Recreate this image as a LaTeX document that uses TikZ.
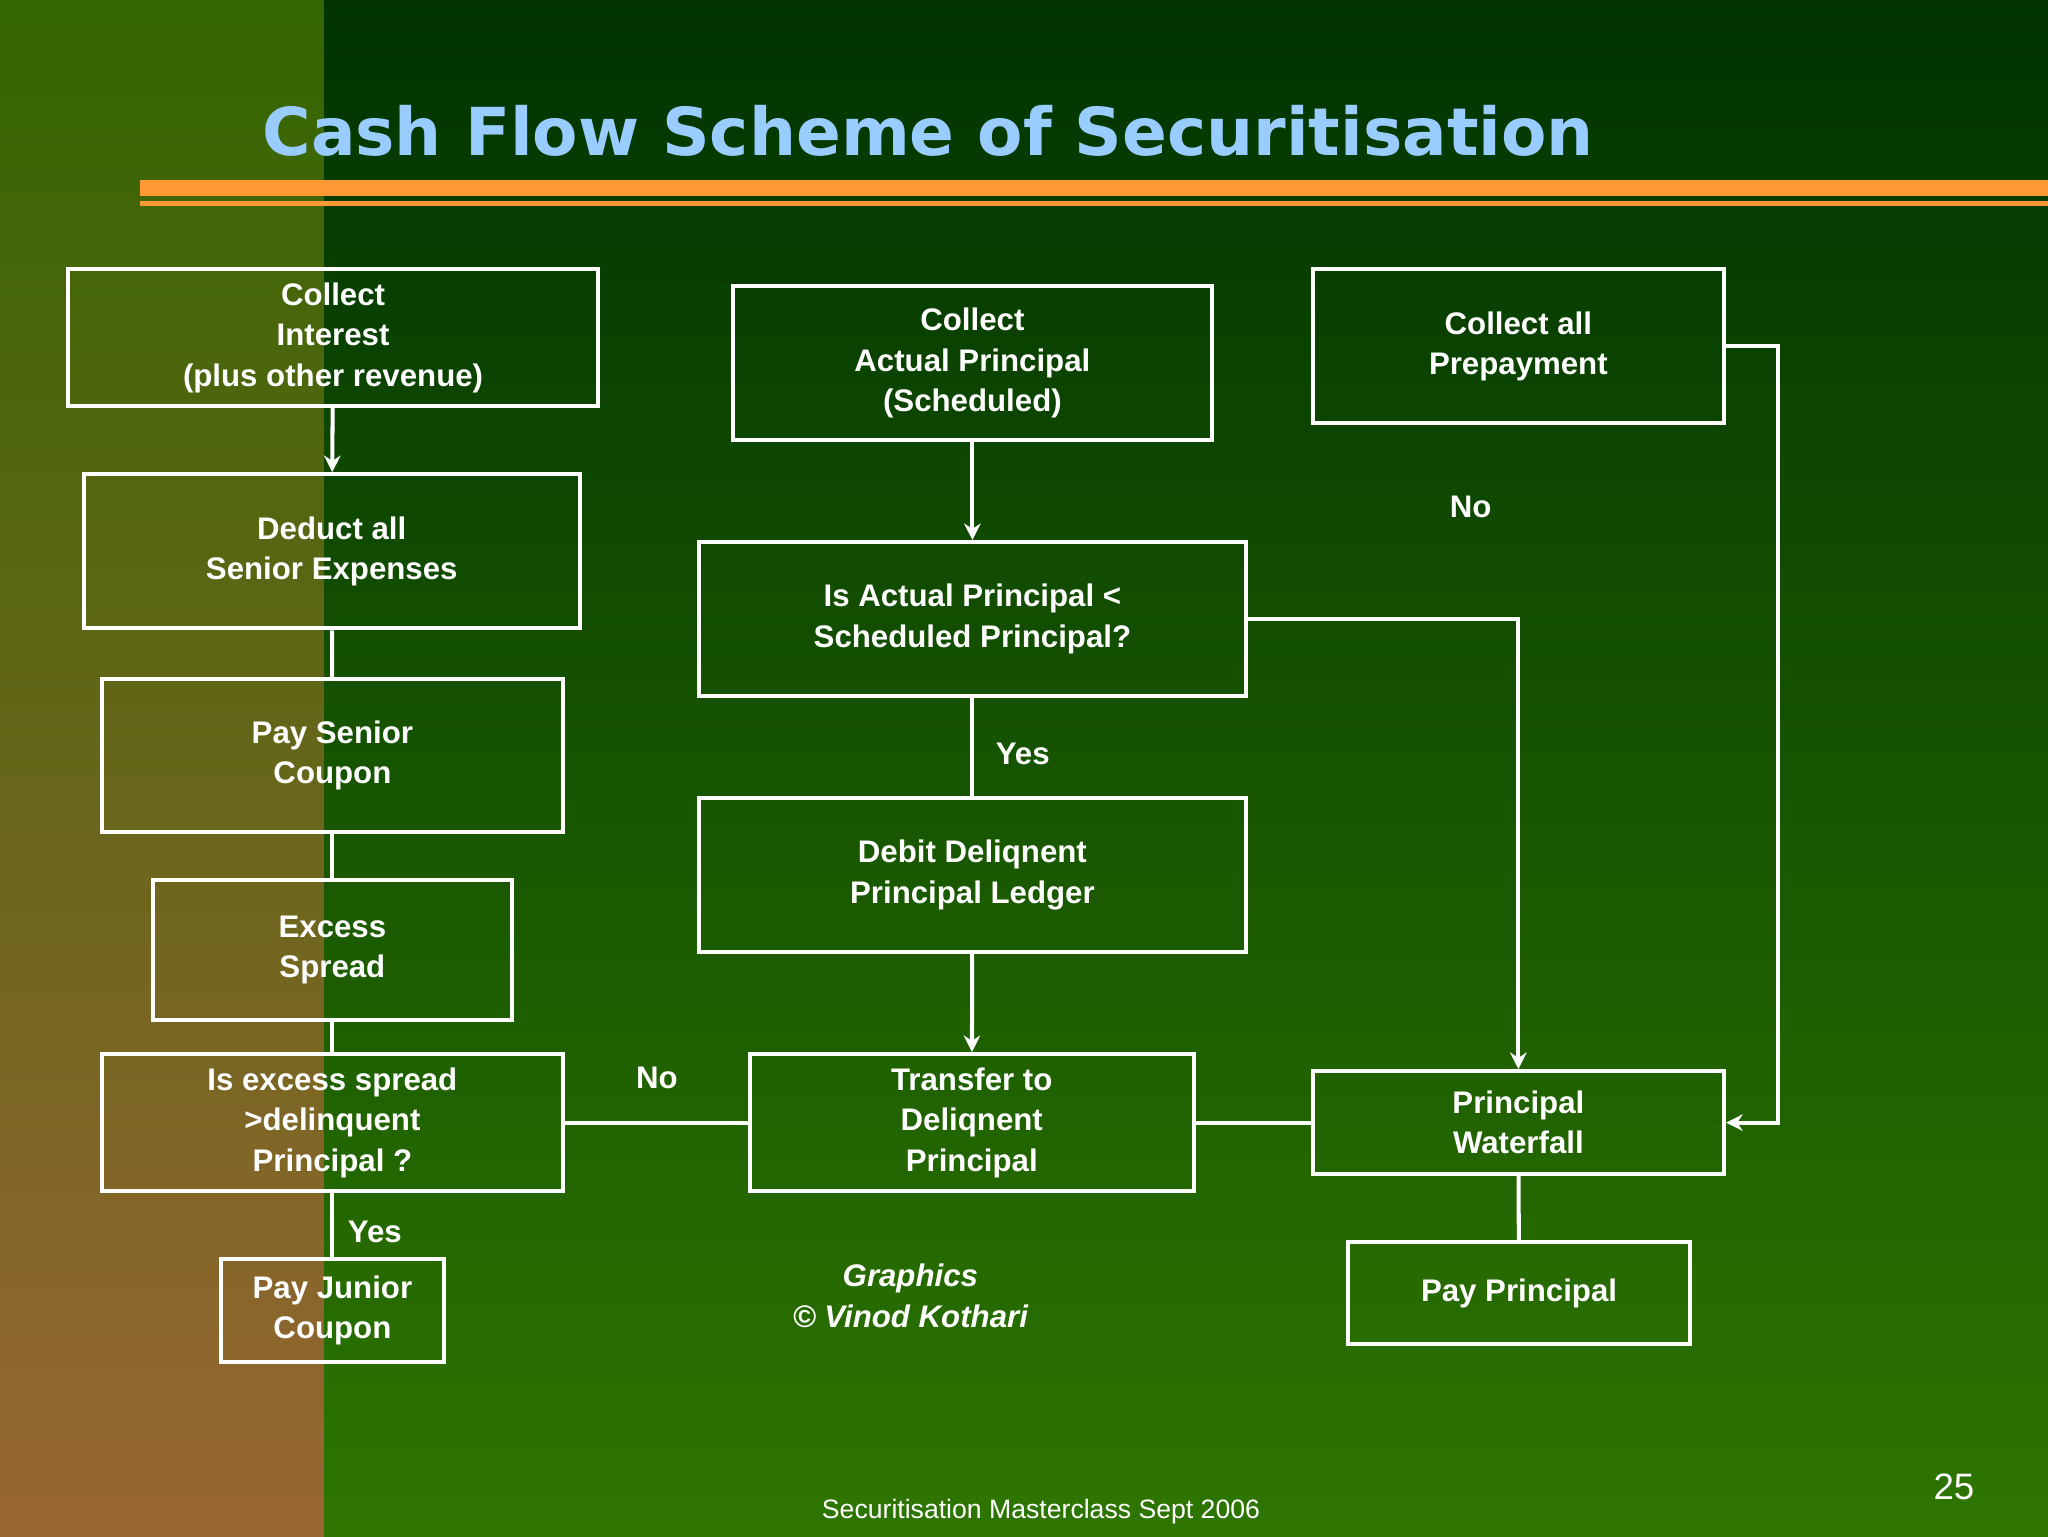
\documentclass[tikz,border=0pt]{standalone}
\usepackage{fontspec}
\setmainfont{Liberation Sans}
\newfontfamily\titlefont{DejaVu Sans}
\usetikzlibrary{arrows.meta}
\definecolor{ltgreen}{HTML}{336600}
\definecolor{dkgreen}{HTML}{003300}
\definecolor{brownish}{HTML}{996633}
\definecolor{orangeline}{HTML}{FF9933}
\definecolor{titleblue}{HTML}{99CCFF}
\tikzset{
  box/.style={draw=white,line width=2.2pt,align=center,text=white,font=\fontsize{17}{22}\selectfont\bfseries,inner sep=0pt},
  conn/.style={draw=white,line width=2.2pt},
  arr/.style={conn,-{Stealth[length=9pt,width=9pt]}},
  lbl/.style={text=white,font=\fontsize{17}{22}\selectfont\bfseries}
}
\newcommand{\bx}[6]{\node[box,minimum width=(#4-#2)*0.25mm,minimum height=(#5-#3)*0.25mm] (#1) at ({(#2+#4)/2},{(#3+#5)/2}) {#6};}
\begin{document}
\begin{tikzpicture}[x=0.25mm,y=-0.25mm]
\useasboundingbox (0,0) rectangle (1568,1176);
\shade[top color=dkgreen,bottom color=ltgreen!90!green] (248,0) rectangle (1568,1176);
\shade[top color=ltgreen,bottom color=brownish] (0,0) rectangle (248,1176);
\fill[orangeline] (107,138) rectangle (1568,150);
\fill[orangeline] (107,154) rectangle (1568,158);
\node[text=titleblue,font=\titlefont\fontsize{36}{40}\selectfont\bfseries,anchor=west] (title) at (196,100) {Cash Flow Scheme of Securitisation};
\bx{A}{52}{206}{458}{311}{Collect\\Interest\\(plus other revenue)}
\bx{B}{64}{363}{444}{481}{Deduct all\\Senior Expenses}
\bx{C}{78}{520}{431}{637}{Pay Senior\\Coupon}
\bx{D}{117}{674}{392}{781}{Excess\\Spread}
\bx{E}{78}{807}{431}{912}{Is excess spread\\>delinquent\\Principal ?}
\bx{F}{169}{964}{340}{1043}{Pay Junior\\Coupon}
\bx{G}{561}{219}{928}{337}{Collect\\Actual Principal\\(Scheduled)}
\bx{H}{535}{415}{954}{533}{Is Actual Principal <\\Scheduled Principal?}
\bx{I}{535}{611}{954}{729}{Debit Deliqnent\\Principal Ledger}
\bx{J}{574}{807}{914}{912}{Transfer to\\Deliqnent\\Principal}
\bx{K}{1005}{206}{1320}{324}{Collect all\\Prepayment}
\bx{L}{1005}{820}{1320}{899}{Principal\\Waterfall}
\bx{M}{1032}{951}{1294}{1029}{Pay Principal}
\draw[arr] (A) -- (B);
\draw[conn] (B) -- (C);
\draw[conn] (C) -- (D);
\draw[conn] (D) -- (E);
\draw[conn] (E) -- (F);
\draw[conn] (E) -- (J);
\draw[arr] (G) -- (H);
\draw[conn] (H) -- (I);
\draw[arr] (I) -- (J);
\draw[arr] (H.east) -| (L.north);
\draw[arr] (K.east) -- ++(40,0) |- (L.east);
\draw[conn] (J) -- (L);
\draw[conn] (L) -- (M);
\node[lbl] (yes1) at (287,943) {Yes};
\node[lbl] (no1) at (503,825) {No};
\node[lbl] (yes2) at (783,577) {Yes};
\node[lbl] (no2) at (1126,388) {No};
\node[lbl,font=\fontsize{17}{22}\selectfont\bfseries\itshape,align=center] (gr) at (697,992) {Graphics\\\textcopyright{} Vinod Kothari};
\node[text=white,font=\fontsize{14.5}{16}\selectfont] (foot) at (797,1157) {Securitisation Masterclass Sept 2006};
\node[text=white,font=\fontsize{20}{22}\selectfont] (pg) at (1496,1138) {25};
\end{tikzpicture}
\end{document}
